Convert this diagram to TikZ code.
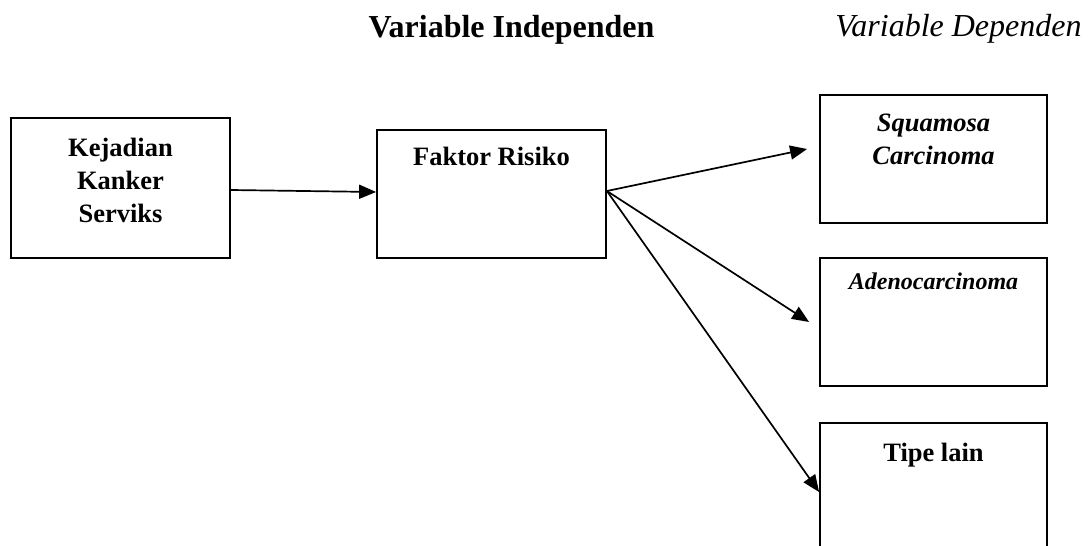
\documentclass[tikz,border=0pt]{standalone}
\usepackage{fontspec}
\setmainfont{Liberation Serif}
\usetikzlibrary{arrows.meta}

\tikzset{
  kotak/.style={draw, line width=1.8pt, inner sep=0pt, minimum width=#1},
  teks/.style={anchor=north, inner sep=0pt, align=center,
    font=\fontsize{26.5}{33}\selectfont\bfseries},
  miring/.style={font=\fontsize{#1}{33}\selectfont\bfseries\itshape},
  miring/.default=26.5,
  judul/.style={anchor=base, inner sep=0pt, font=\fontsize{32}{38}\selectfont#1},
  panah/.style={-{Triangle[length=17pt,width=14pt]}, line width=1.7pt}
}

\begin{document}
\begin{tikzpicture}[x=1pt,y=-1pt]
      \useasboundingbox (0,0) rectangle (1088,546);
      \clip (0,0) rectangle (1088,546);
      % judul
      \node[judul=\bfseries] (indep) at (511.5,37) {Variable Independen};
      \node[judul=\itshape] (dep) at (958.5,36) {Variable Dependen};
      % kotak
      \node[kotak=219pt, minimum height=140pt] (kejadian) at (120.5,188) {};
      \node[kotak=229pt, minimum height=128pt] (faktor) at (491.5,194) {};
      \node[kotak=227pt, minimum height=128pt] (squamosa) at (933.5,159) {};
      \node[kotak=227pt, minimum height=128pt] (adeno) at (933.5,322) {};
      \node[kotak=227pt, minimum height=138pt] (tipe) at (933.5,492) {};
      % isi kotak
      \node[teks] (kejadian-t) at ([yshift=-21pt]kejadian.north) {Kejadian\\Kanker\\Serviks};
      \node[teks] (faktor-t) at ([yshift=-18pt]faktor.north) {Faktor Risiko};
      \node[teks, miring] (squamosa-t) at ([yshift=-20pt]squamosa.north) {Squamosa\\Carcinoma};
      \node[teks, miring=24] (adeno-t) at ([yshift=-16pt]adeno.north) {Adenocarcinoma};
      \node[teks] (tipe-t) at ([yshift=-21pt]tipe.north) {Tipe lain};
      % panah
      \path[panah]
        ([yshift=-2pt]kejadian.east) edge ([yshift=2pt]faktor.west)
        ([yshift=3pt]faktor.east) edge ([xshift=-12pt,yshift=10pt]squamosa.west)
                                  edge ([xshift=-10pt]adeno.west)
                                  edge (tipe.west);
\end{tikzpicture}
\end{document}
